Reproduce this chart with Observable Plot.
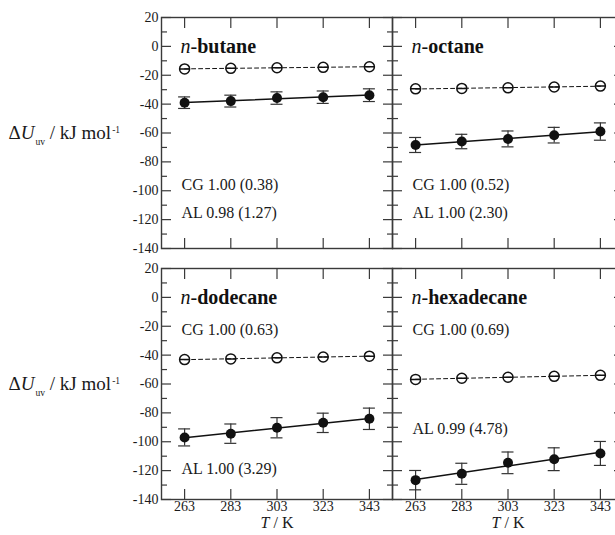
<!DOCTYPE html>
<html><head><meta charset="utf-8">
<script src="https://cdn.jsdelivr.net/npm/d3@7"></script>
<script src="https://cdn.jsdelivr.net/npm/@observablehq/plot@0.6"></script>
<style>
html,body{margin:0;padding:0;background:#fff;overflow:hidden;}
#chart{width:615px;height:535px;overflow:hidden;position:relative;}
#chart svg{max-width:none !important;}
</style></head><body><div id="chart"></div>
<script>
// ---- data ----
const temperatures = [263, 283, 303, 323, 343];
const alkanes = ["butane", "octane", "dodecane", "hexadecane"];
const panelTitles = ["<i>n</i>-<b>butane</b>", "<i>n</i>-<b>octane</b>", "<i>n</i>-<b>dodecane</b>", "<i>n</i>-<b>hexadecane</b>"];

const butaneCG = [-15.6, -15.2, -14.8, -14.5, -14.1];
const octaneCG = [-29.4, -29.1, -28.7, -28.1, -27.5];
const dodecaneCG = [-43.1, -42.6, -41.9, -41.3, -40.7];
const hexadecaneCG = [-56.8, -56.0, -55.3, -54.7, -54.0];

const butaneAL = [-39.0, -37.9, -35.8, -35.2, -33.8];
const octaneAL = [-68.3, -65.9, -64.1, -61.5, -59.0];
const dodecaneAL = [-97.0, -94.4, -90.3, -86.9, -84.1];
const hexadecaneAL = [-126.6, -122.2, -114.6, -112.1, -108.1];

const butaneErr = [4.0, 4.1, 4.3, 4.3, 4.4];
const octaneErr = [5.2, 5.0, 5.5, 5.4, 6.0];
const dodecaneErr = [5.9, 6.7, 7.0, 6.7, 7.4];
const hexadecaneErr = [6.7, 7.3, 7.5, 7.9, 8.3];

const cgLabels = ["CG 1.00 (0.38)", "CG 1.00 (0.52)", "CG 1.00 (0.63)", "CG 1.00 (0.69)"];
const alLabels = ["AL 0.98 (1.27)", "AL 1.00 (2.30)", "AL 1.00 (3.29)", "AL 0.99 (4.78)"];
// annotation anchor heights (in kJ/mol units)
const titleAt = [0, 0, 0, 0];
const cgLabelAt = [-96, -96, -22.7, -22.7];
const alLabelAt = [-115, -115, -119, -90.8];

const yMajorTicks = [-140, -120, -100, -80, -60, -40, -20, 0, 20];
const yMinorTicks = [-130, -110, -90, -70, -50, -30, -10, 10];
const yLabel = "Δ<i>U</i><sub>uv</sub> / kJ mol<sup>-1</sup>";
const xLabel = "<i>T</i> / K";

// ---- tables ----
const cgSeries = [butaneCG, octaneCG, dodecaneCG, hexadecaneCG];
const alSeries = [butaneAL, octaneAL, dodecaneAL, hexadecaneAL];
const errSeries = [butaneErr, octaneErr, dodecaneErr, hexadecaneErr];

const rows = [];
alkanes.forEach((name, i) => {
  temperatures.forEach((T, j) => {
    rows.push({name, col: i % 2, row: Math.floor(i / 2), T,
      cg: cgSeries[i][j], al: alSeries[i][j], err: errSeries[i][j]});
  });
});
const panels = alkanes.map((name, i) => ({name, col: i % 2, row: Math.floor(i / 2),
  title: panelTitles[i], cg: cgLabels[i], al: alLabels[i],
  titleY: titleAt[i], cgY: cgLabelAt[i], alY: alLabelAt[i]}));
const leftPanels = [{col: 0, row: 0, t: yLabel}, {col: 0, row: 1, t: yLabel}];
const bottomPanels = [{col: 0, row: 1, t: xLabel}, {col: 1, row: 1, t: xLabel}];

const thetaSymbol = {
  draw(ctx, size) {
    const r = Math.sqrt(size / Math.PI);
    ctx.moveTo(r, 0);
    ctx.arc(0, 0, r, 0, 2 * Math.PI);
    ctx.moveTo(-r, 0);
    ctx.lineTo(r, 0);
  }
};

const axisColor = "#3a3a3a";
const ink = "#111";
const serif = "'Liberation Serif', 'Times New Roman', serif";
const fmt = d => String(d);
const F = {fx: "col", fy: "row"};
const tickOpts = {tickFormat: () => "", label: null, facetAnchor: null, stroke: axisColor, strokeWidth: 1.2};

const chart = Plot.plot({
  width: 640,
  height: 535,
  marginLeft: 161,
  marginRight: 17,
  marginTop: 17,
  marginBottom: 36,
  style: {fontFamily: serif, fontSize: "14px", color: "#1a1a1a", background: "#fff", maxWidth: "none"},
  fx: {domain: [0, 1], padding: 0, axis: null},
  fy: {domain: [0, 1], paddingInner: 0.08, paddingOuter: 0, axis: null},
  x: {domain: [253, 353]},
  y: {domain: [-140, 20]},
  marks: [
    Plot.frame({stroke: axisColor, strokeWidth: 1.4}),
    // inward ticks on every side of every panel
    Plot.axisY({anchor: "left", ticks: yMajorTicks, tickSize: -10, ...tickOpts}),
    Plot.axisY({anchor: "left", ticks: yMinorTicks, tickSize: -6, ...tickOpts}),
    Plot.axisY({anchor: "right", ticks: yMajorTicks, tickSize: -10, ...tickOpts}),
    Plot.axisY({anchor: "right", ticks: yMinorTicks, tickSize: -6, ...tickOpts}),
    Plot.axisX({anchor: "top", ticks: temperatures, tickSize: -10, ...tickOpts}),
    Plot.axisX({anchor: "bottom", ticks: temperatures, tickSize: -10, ...tickOpts}),
    // tick labels on outer panels only
    Plot.axisY({anchor: "left", ticks: yMajorTicks, tickSize: 0, tickPadding: 3, tickFormat: fmt, label: null, fill: "#1a1a1a", fontSize: 14, fontFamily: serif}),
    Plot.axisX({anchor: "bottom", ticks: temperatures, tickSize: 0, tickPadding: 2, tickFormat: fmt, label: null, fill: "#1a1a1a", fontSize: 14, fontFamily: serif}),
    // fits
    Plot.linearRegressionY(rows, {...F, x: "T", y: "cg", ci: 0, stroke: ink, strokeWidth: 1, strokeDasharray: "4,3"}),
    Plot.linearRegressionY(rows, {...F, x: "T", y: "al", ci: 0, stroke: ink, strokeWidth: 1.5}),
    // error bars
    Plot.ruleX(rows, {...F, x: "T", y1: d => d.al - d.err, y2: d => d.al + d.err, stroke: "#333", strokeWidth: 1.2}),
    Plot.ruleY(rows, {...F, x1: "T", x2: "T", y: d => d.al - d.err, insetLeft: -6, insetRight: -6, stroke: "#333", strokeWidth: 1.2}),
    Plot.ruleY(rows, {...F, x1: "T", x2: "T", y: d => d.al + d.err, insetLeft: -6, insetRight: -6, stroke: "#333", strokeWidth: 1.2}),
    // points
    Plot.dot(rows, {...F, x: "T", y: "cg", r: 5, symbol: thetaSymbol, fill: "none", stroke: ink, strokeWidth: 1.5}),
    Plot.dot(rows, {...F, x: "T", y: "al", r: 5, fill: ink, stroke: "none"}),
    // annotations
    Plot.text(panels, {...F, y: "titleY", text: "title", frameAnchor: "left", dx: 19, textAnchor: "start", fontSize: 20, fontFamily: serif, fill: ink}),
    Plot.text(panels, {...F, y: "cgY", text: "cg", frameAnchor: "left", dx: 20, textAnchor: "start", fontSize: 16, fontFamily: serif, fill: "#1a1a1a"}),
    Plot.text(panels, {...F, y: "alY", text: "al", frameAnchor: "left", dx: 20, textAnchor: "start", fontSize: 16, fontFamily: serif, fill: "#1a1a1a"}),
    Plot.text(leftPanels, {...F, text: "t", frameAnchor: "left", dx: -153, textAnchor: "start", fontSize: 19, fontFamily: serif, fill: "#1a1a1a"}),
    Plot.text(bottomPanels, {...F, text: "t", frameAnchor: "bottom", dy: 28, textAnchor: "middle", fontSize: 16, fontFamily: serif, fill: "#1a1a1a"})
  ]
});

// turn the simple markup in labels into styled tspans
d3.select(chart).selectAll("text").each(function () {
  const src = this.textContent;
  if (!src.includes("<")) return;
  const fs = parseFloat(getComputedStyle(this).fontSize) || 14;
  const el = d3.select(this);
  el.text(null);
  let italic = false, bold = false, shift = 0, restore = 0;
  for (const p of src.split(/(<\/?(?:i|b|sub|sup)>)/)) {
    if (!p) continue;
    if (p === "<i>") { italic = true; continue; }
    if (p === "</i>") { italic = false; continue; }
    if (p === "<b>") { bold = true; continue; }
    if (p === "</b>") { bold = false; continue; }
    if (p === "<sub>") { shift = 0.4 * fs; continue; }
    if (p === "<sup>") { shift = -0.45 * fs; continue; }
    if (p === "</sub>" || p === "</sup>") { restore = -shift; shift = 0; continue; }
    const ts = el.append("tspan").text(p);
    if (italic) ts.attr("font-style", "italic");
    if (bold) ts.attr("font-weight", "bold");
    if (shift) ts.attr("dy", shift).attr("font-size", 0.68 * fs).attr("dx", 0.08 * fs);
    else if (restore) { ts.attr("dy", restore); restore = 0; }
  }
});

document.getElementById("chart").appendChild(chart);
</script>
</body></html>
